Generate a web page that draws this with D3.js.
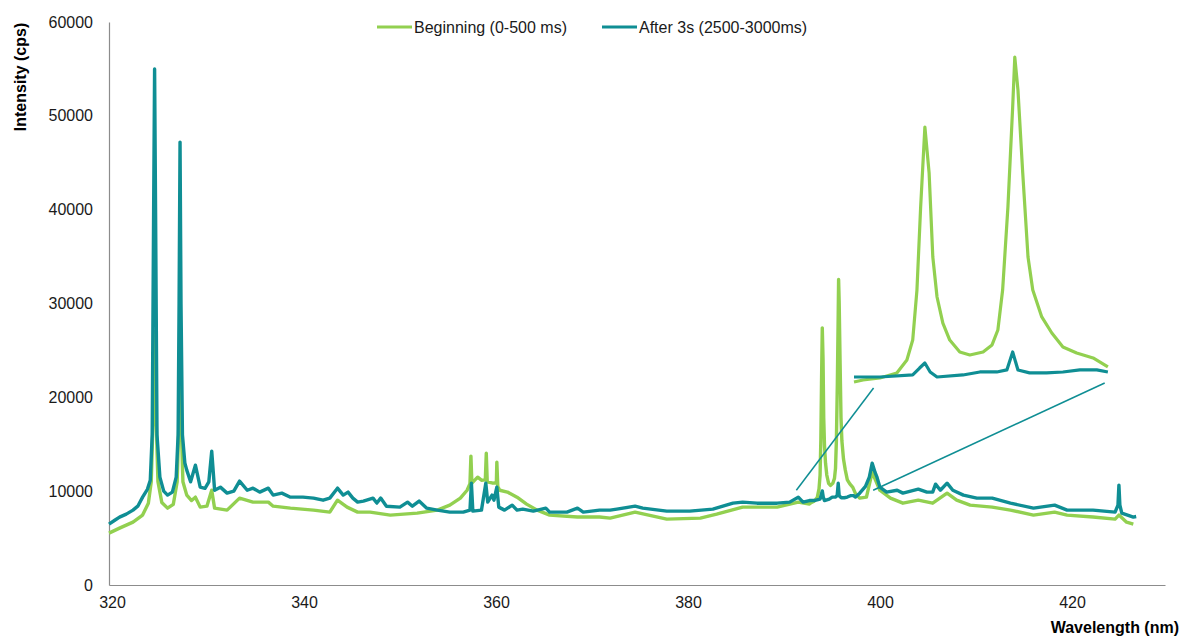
<!DOCTYPE html>
<html><head><meta charset="utf-8">
<script src="https://cdn.jsdelivr.net/npm/d3@7"></script>
<style>
body{margin:0;background:#fff;}
text{font-family:"Liberation Sans",Arial,sans-serif;}
</style></head>
<body><svg id="c" width="1181" height="637"></svg>
<script>
const seriesNames = ["Beginning (0-500 ms)", "After 3s (2500-3000ms)"];
const xTicks = [320, 340, 360, 380, 400, 420];
const yTicks = [0, 10000, 20000, 30000, 40000, 50000, 60000];

const greenWl = [320.0,321.1,322.5,323.5,324.1,324.4,324.6,324.75,324.9,325.1,325.5,326.1,326.7,327.1,327.3,327.4,327.5,327.7,328.1,328.6,329.0,329.5,330.2,330.7,331.0,332.3,333.6,335.0,336.6,337.1,338.9,341.3,343.0,343.8,344.8,345.9,347.2,349.3,352.1,354.2,355.5,356.6,357.3,357.6,357.7,357.8,358.4,358.8,359.2,359.3,359.4,360.0,360.35,360.4,360.5,360.7,361.5,362.5,363.5,364.6,365.9,368.8,371.1,372.2,374.8,378.1,381.6,383.3,386.0,389.6,391.8,392.96,393.13,393.45,393.77,393.96,394.07,394.15,394.22,394.3,394.38,394.45,394.53,394.64,394.77,394.96,395.15,395.4,395.57,395.68,395.77,395.87,395.96,396.0,396.06,396.15,396.25,396.34,396.51,396.7,396.91,397.17,397.48,397.76,398.2,398.9,399.5,400.3,401.4,402.7,404.3,405.8,407.3,408.3,409.7,412.0,413.9,416.3,418.5,419.8,422.5,424.8,425.2,426.0,426.7];
const greenInt = [5530,6060,6700,7450,8720,11000,18000,27000,18000,11000,8800,8190,8600,11000,18000,26000,18000,11000,9580,9000,9360,8300,8400,10100,8190,7980,9260,8830,8830,8400,8190,7980,7770,9040,8300,7770,7770,7450,7660,7980,8510,9260,10100,10800,13730,10850,11490,11170,11200,14040,11000,10850,10900,13090,10500,10100,9900,9360,8620,7980,7450,7240,7240,7130,7770,7020,7130,7550,8300,8300,8830,8630,8780,8930,9300,10250,11720,15400,21510,27400,24020,17830,14890,12970,11720,10840,10620,10840,11360,12460,15400,21510,28870,32550,30120,24020,17830,15400,13420,12240,11210,10770,10400,9740,9260,9360,12020,10100,9260,8720,9040,8720,9790,9040,8510,8300,7980,7450,7770,7450,7240,7020,7450,6700,6490];

const tealWl = [320.0,320.6,321.1,321.8,322.5,323.0,323.5,324.0,324.3,324.5,324.65,324.75,324.85,325.0,325.3,325.7,326.1,326.6,327.0,327.2,327.3,327.4,327.5,327.65,327.9,328.1,328.5,329.0,329.5,330.0,330.4,330.7,331.0,331.6,332.3,333.0,333.6,334.4,335.0,335.7,336.6,337.1,338.0,338.9,340.2,341.3,342.3,343.0,343.8,344.4,344.9,345.4,345.9,346.5,347.5,347.9,348.3,348.9,350.3,351.1,351.6,352.3,353.1,354.2,355.5,356.9,357.6,357.75,357.9,358.8,359.25,359.45,359.9,360.1,360.4,360.6,361.2,362.0,362.5,363.1,364.2,365.5,365.9,367.7,368.8,369.4,371.1,372.2,372.9,374.8,375.6,378.1,380.5,382.9,383.6,385.0,386.0,387.5,389.6,390.9,391.8,392.3,392.96,393.45,394.07,394.2,394.3,394.4,394.53,395.02,395.34,395.66,395.85,395.96,396.06,396.28,396.6,396.91,397.23,397.55,397.76,398.2,398.8,399.2,399.5,399.8,400.0,400.3,401.0,402.1,402.7,404.3,405.2,405.8,406.1,406.6,407.3,407.9,409.0,410.4,412.0,413.9,416.3,418.5,419.8,422.5,424.8,425.1,425.2,425.3,425.5,426.7,427.0];
const tealInt = [6490,6900,7230,7550,7980,8400,9360,10200,11170,16000,40000,55000,40000,16000,11500,10000,9580,9900,11500,16000,30000,47200,30000,16000,13000,12240,11000,12770,10430,10300,11000,14260,10100,10430,9790,10000,11070,10100,10320,9900,10320,9580,9790,9360,9360,9260,9040,9260,10320,9580,9900,9260,8830,8940,9260,8730,9260,8400,8300,8830,8400,8940,8190,7980,7770,7770,7980,10850,7870,7980,10850,8830,9580,9040,10430,8300,7980,8510,7980,8090,7870,8190,7770,7770,8190,7770,7980,7980,8090,8400,8190,7870,7870,8090,8300,8720,8830,8720,8720,8830,9360,8830,9000,9000,9150,9660,10030,9370,9000,9150,9370,9370,9520,10840,9520,9300,9300,9370,9520,9520,9370,9790,10500,11500,12980,12000,11490,10430,9900,10100,9790,10210,9900,9900,10750,10100,10850,10100,9580,9260,9260,8720,8190,8510,7980,7980,7770,8500,10640,8500,7660,7240,7300];

const colors = ["#92D050", "#0F8E94"];

const svg = d3.select("#c");
const x = d3.scaleLinear().domain([320, 430]).range([109, 1165]);
const y = d3.scaleLinear().domain([0, 60000]).range([585, 22]);

// axes
const xAxis = svg.append("g").attr("transform", "translate(0,585)")
  .call(d3.axisBottom(x).tickValues(xTicks).tickSize(0).tickPadding(12).tickFormat(d3.format("d")));
const yAxis = svg.append("g").attr("transform", "translate(109,0)")
  .call(d3.axisLeft(y).tickValues(yTicks).tickSize(0).tickPadding(16).tickFormat(d3.format("d")));
[xAxis, yAxis].forEach(g => {
  g.select(".domain").attr("stroke", "#8c8c8c").attr("stroke-width", 1.2);
  g.selectAll("text").attr("font-size", 16).attr("fill", "#1a1a1a")
   .attr("font-family", "'Liberation Sans',Arial,sans-serif");
});
xAxis.selectAll("text").attr("dx", 3);

const series = [
  greenWl.map((w, i) => ({w, v: greenInt[i]})),
  tealWl.map((w, i) => ({w, v: tealInt[i]}))
];

const line = d3.line().x(d => x(d.w)).y(d => y(d.v));
series.forEach((s, i) => {
  svg.append("path").datum(s).attr("d", line).attr("fill", "none")
    .attr("stroke", colors[i]).attr("stroke-width", 3.4).attr("stroke-linejoin", "round");
});

// inset (magnified view of 393-397.8 nm)
const xi = d3.scaleLinear().domain([392.96, 397.8]).range([854, 1110]);
const yi = d3.scaleLinear().domain([9000, 32700]).range([377, 55]);
const lineI = d3.line().x(d => xi(d.w)).y(d => yi(d.v));
series.forEach((s, i) => {
  const sub = s.filter(d => d.w >= 392.95 && d.w <= 397.8);
  svg.append("path").datum(sub).attr("d", lineI).attr("fill", "none")
    .attr("stroke", colors[i]).attr("stroke-width", 3.2).attr("stroke-linejoin", "round");
});

// connector lines
const conn = [
  [[x(391.6), y(10100)], [xi(393.33), yi(8190)]],
  [[x(399.6), y(10100)], [xi(397.7), yi(8560)]]
];
conn.forEach(c => {
  svg.append("line").attr("x1", c[0][0]).attr("y1", c[0][1]).attr("x2", c[1][0]).attr("y2", c[1][1])
    .attr("stroke", colors[1]).attr("stroke-width", 1.5);
});

// legend
const legX = [377, 602];
seriesNames.forEach((n, i) => {
  svg.append("line").attr("x1", legX[i]).attr("x2", legX[i] + 35).attr("y1", 27).attr("y2", 27)
    .attr("stroke", colors[i]).attr("stroke-width", 3);
  svg.append("text").attr("x", legX[i] + 37).attr("y", 33).attr("font-size", 16)
    .attr("fill", "#1a1a1a").text(n);
});

// axis titles
svg.append("text").attr("transform", "translate(26,77) rotate(-90)").attr("text-anchor", "middle")
  .attr("font-size", 16).attr("font-weight", "bold").attr("fill", "#000").text("Intensity (cps)");
svg.append("text").attr("x", 1179).attr("y", 633).attr("text-anchor", "end")
  .attr("font-size", 16).attr("font-weight", "bold").attr("fill", "#000").text("Wavelength (nm)");
</script></body></html>
